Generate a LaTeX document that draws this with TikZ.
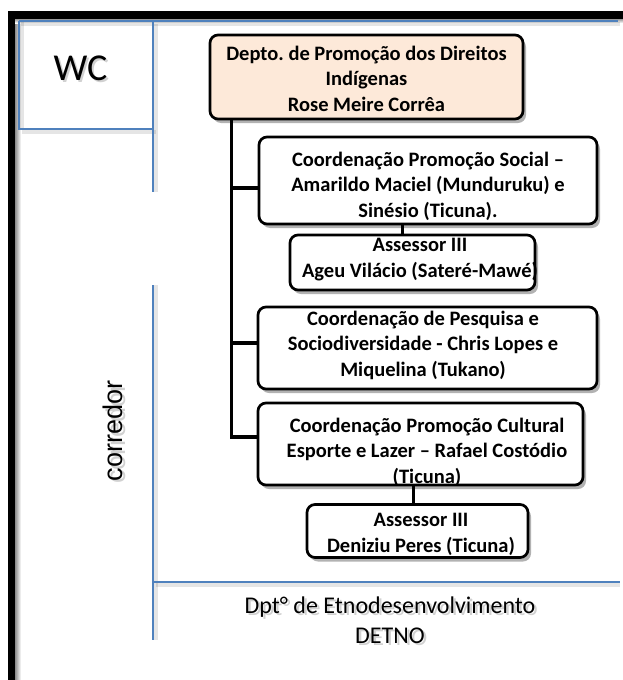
\documentclass[tikz,border=0pt]{standalone}
\usepackage{fontspec}
\setmainfont{Carlito}
\newfontfamily\corrfont{Liberation Sans}
\usetikzlibrary{shadows}
\definecolor{planblue}{HTML}{4F81BD}
\definecolor{peach}{HTML}{FDE9D9}
\frenchspacing

\begin{document}
\begin{tikzpicture}[x=1pt,y=-1pt,
  orgbox/.style={draw=black, line width=2.7pt, rounded corners=8pt, fill=white,
    drop shadow={shadow xshift=3pt, shadow yshift=-4pt, opacity=.3, fill=black},
    inner sep=0pt},
  % the base anchor of a multi-line node sits on its last line
  orgtext/.style={align=center, font=\bfseries\fontsize{20.5}{25.5}\selectfont,
    inner sep=0pt, anchor=base},
  wall/.style={line width=1.3pt, draw=planblue},
  wallshade/.style={line width=4pt, draw=black, opacity=.1},
  link/.style={line width=3.5pt, draw=black},
  labelshade/.style={text=black, opacity=.18},
]
% page
\useasboundingbox (0,0) rectangle (623,680);
\fill[white] (0,0) rectangle (623,680);

% outer wall (black) with its soft shadow
\shade[left color=black!45, right color=white] (15,19) rectangle (21,680);
\shade[top color=black!40, bottom color=white] (15,19) rectangle (623,23);
\fill[black] (8,11) rectangle (623,19);
\fill[black] (8,11) rectangle (15,680);

% inner partitions (blue) with shadows
\foreach \a/\b in {{(21,24)/(620,24)}, {(22,21)/(22,129)}, {(22,132)/(156,132)},
                   {(156,24)/(156,192)}, {(156,285)/(156,640)}, {(156,585)/(620,585)}}
  \draw[wallshade] \a -- \b;
\draw[wall] (19,21) -- (618,21);
\draw[wall] (19,21) -- (19,129) -- (153,129);
\draw[wall] (153,21) -- (153,192);
\draw[wall] (153,285) -- (153,640);
\draw[wall] (153,582) -- (620,582);

% room labels
\node[labelshade, font=\fontsize{38}{40}\selectfont, anchor=base] (wcshade) at (82.5,82.5) {WC};
\node[font=\fontsize{38}{40}\selectfont, anchor=base] (wc) at (80.5,80) {WC};
\node[labelshade, font=\corrfont\fontsize{27}{30}\selectfont, rotate=90] (corrshade) at (115.5,433.5) {corredor};
\node[font=\corrfont\fontsize{27}{30}\selectfont, rotate=90] (corr) at (113,431) {corredor};
\node[labelshade, font=\fontsize{24}{30}\selectfont, align=center, anchor=base] (detnoshade) at (392.5,645.5)
  {Dpt° de Etnodesenvolvimento\\DETNO};
\node[font=\fontsize{24}{30}\selectfont, align=center, anchor=base] (detno) at (390,643)
  {Dpt° de Etnodesenvolvimento\\DETNO};

% organisation chart boxes
\node[orgbox, fill=peach, minimum width=313pt, minimum height=84pt] (b1) at (366.5,77) {};
\node[orgbox, minimum width=338pt, minimum height=87pt] (b2) at (428,180.5) {};
\node[orgbox, minimum width=245pt, minimum height=55pt] (b3) at (412.5,262.5) {};
\node[orgbox, minimum width=339pt, minimum height=82pt] (b4) at (427.5,348) {};
\node[orgbox, minimum width=325pt, minimum height=82pt] (b5) at (420.5,444) {};
\node[orgbox, minimum width=221pt, minimum height=53pt] (b6) at (417.5,531) {};

% connectors
\coordinate (trunktop) at ([xshift=23pt]b1.south west);
\coordinate (j2) at ([yshift=-7.5pt]b2.west);
\coordinate (j4) at ([yshift=5pt]b4.west);
\coordinate (j5) at ([yshift=7pt]b5.west);
\draw[link] (trunktop) -- (trunktop |- j5) -- (j5);
\draw[link] (trunktop |- j2) -- (j2);
\draw[link] (trunktop |- j4) -- (j4);
\draw[link, line width=3pt] ([xshift=-10.5pt]b3.north) -- ([xshift=-10.5pt]b3.north |- b2.south);
\draw[link, line width=3pt] ([xshift=-4.5pt]b6.north) -- ([xshift=-4.5pt]b6.north |- b5.south);

% box texts
\node[orgtext] (t1) at (366.5,111) {Depto. de Promoção dos Direitos\\Indígenas\\Rose Meire Corrêa};
\node[orgtext] (t2) at (428,217) {Coordenação Promoção Social –\\Amarildo Maciel (Munduruku) e\\Sinésio (Ticuna).};
\node[orgtext] (t3) at (420,277) {Assessor III\\Ageu Vilácio (Sateré-Mawé)};
\node[orgtext] (t4) at (423,376) {Coordenação de Pesquisa e\\Sociodiversidade - Chris Lopes e\\Miquelina (Tukano)};
\node[orgtext] (t5) at (427,483) {Coordenação Promoção Cultural\\Esporte e Lazer – Rafael Costódio\\(Ticuna)};
\node[orgtext] (t6) at (421,552) {Assessor III\\Deniziu Peres (Ticuna)};
\end{tikzpicture}
\end{document}
